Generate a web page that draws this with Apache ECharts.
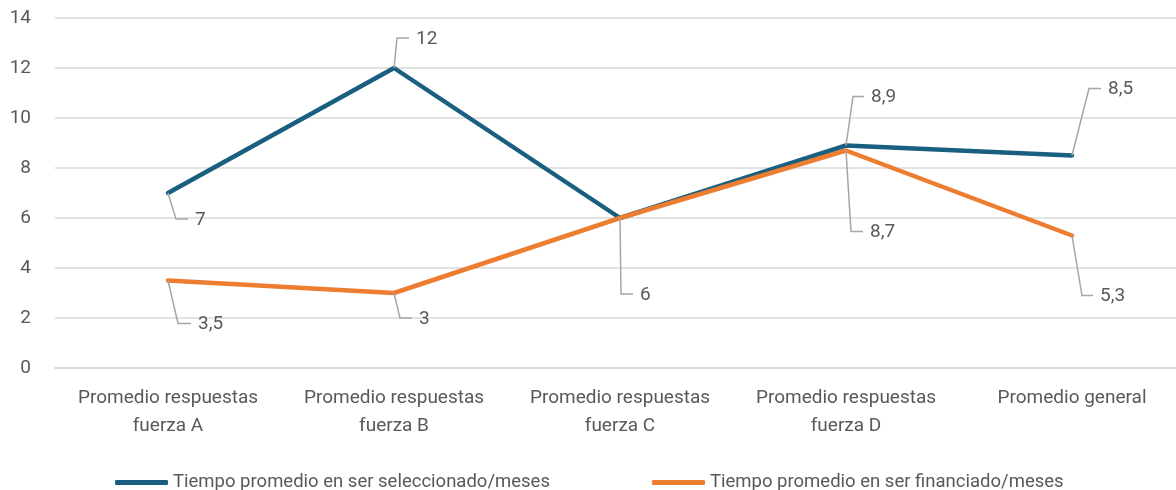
<!DOCTYPE html>
<html>
<head>
<meta charset="utf-8">
<script src="https://cdn.jsdelivr.net/npm/echarts@6/dist/echarts.min.js"></script>
<style>html,body{margin:0;padding:0;background:#fff;overflow:hidden;width:1176px;height:490px}#c{width:1200px;height:490px}</style>
</head>
<body>
<div id="c"></div>
<script>
const categories = ['Promedio respuestas\nfuerza A','Promedio respuestas\nfuerza B','Promedio respuestas\nfuerza C','Promedio respuestas\nfuerza D','Promedio general'];
const seriesNames = ['Tiempo promedio en ser seleccionado/meses','Tiempo promedio en ser financiado/meses'];
const seleccionado = [7, 12, 6, 8.9, 8.5];
const financiado = [3.5, 3, 6, 8.7, 5.3];
const yTicks = {min: 0, max: 14, interval: 2};

// leader-line layout for data labels: [dx to elbow, dy to elbow, horizontal length]
const labelLeaders = {
  0: [[8, 26, 12], [3, -30, 12], [1, 76, 12], [7, -49, 11], [17, -67, 12]],
  1: [[10, 43, 13], [6, 25, 12], [0, 0, 0], [5, 81, 12], [10, 60, 11]]
};
const colors = ['#1a5f80', '#ed7d31'];
const font = 'Roboto, "Liberation Sans", sans-serif';
const textColor = '#595959';
const fs = 19;

function fmt(v){ return String(v).replace('.', ','); }

function leaderSeries(values, sIdx){
  return {
    type: 'custom',
    silent: true,
    z: 5,
    data: values.map((v, i) => [i, v]),
    renderItem: function(params, api){
      const i = params.dataIndex;
      const lay = labelLeaders[sIdx][i];
      if (!lay || (lay[0] === 0 && lay[1] === 0)) return null;
      const p = api.coord([api.value(0), api.value(1)]);
      const ex = p[0] + lay[0], ey = p[1] + lay[1];
      const hx = ex + lay[2];
      return {
        type: 'group',
        children: [
          {type: 'polyline', shape: {points: [p, [ex, ey], [hx, ey]]},
           style: {stroke: '#a6a6a6', lineWidth: 1.5, fill: null}},
          {type: 'text', style: {x: hx + 7, y: ey + 1, text: fmt(api.value(1)),
            fill: textColor, font: fs + 'px ' + font, textVerticalAlign: 'middle', textAlign: 'left'}}
        ]
      };
    }
  };
}

const chart = echarts.init(document.getElementById('c'), null, {renderer: 'canvas'});
chart.setOption({
  animation: false,
  grid: {left: 55, top: 18, width: 1130, height: 350, containLabel: false},
  legend: {
    data: seriesNames,
    top: 468, left: 110,
    icon: 'roundRect', itemWidth: 53, itemHeight: 5, itemGap: 102,
    textStyle: {color: textColor, fontSize: 18.5, fontFamily: font}
  },
  xAxis: {
    type: 'category', data: categories, boundaryGap: true,
    axisLine: {show: true, lineStyle: {color: '#d9d9d9', width: 1.5}},
    axisTick: {show: false},
    axisLabel: {color: textColor, fontSize: fs, fontFamily: font, margin: 16, lineHeight: 28, interval: 0}
  },
  yAxis: {
    type: 'value', min: yTicks.min, max: yTicks.max, interval: yTicks.interval,
    axisLine: {show: false}, axisTick: {show: false},
    splitLine: {lineStyle: {color: '#d9d9d9', width: 1.5}},
    axisLabel: {color: textColor, fontSize: fs, fontFamily: font, margin: 24}
  },
  series: [
    {name: seriesNames[0], type: 'line', data: seleccionado, showSymbol: false, symbol: 'none',
     lineStyle: {color: colors[0], width: 4.5, cap: 'round'}, itemStyle: {color: colors[0]}, z: 3},
    {name: seriesNames[1], type: 'line', data: financiado, showSymbol: false, symbol: 'none',
     lineStyle: {color: colors[1], width: 4.5, cap: 'round'}, itemStyle: {color: colors[1]}, z: 4},
    leaderSeries(seleccionado, 0),
    leaderSeries(financiado, 1)
  ]
});
</script>
</body>
</html>
